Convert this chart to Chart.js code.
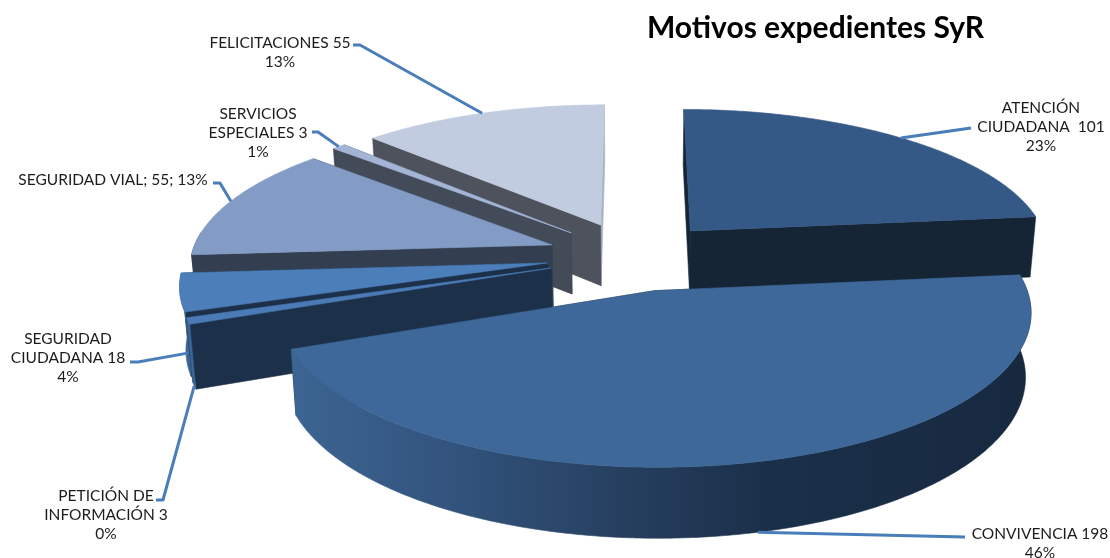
<!DOCTYPE html>
<html>
<head>
<meta charset="utf-8">
<title>Motivos expedientes SyR</title>
<script src="https://cdn.jsdelivr.net/npm/chart.js@4/dist/chart.umd.min.js"></script>
<style>
  html, body { margin: 0; padding: 0; background: #fff; }
  canvas { display: block; }
</style>
</head>
<body>
<canvas id="pie" width="1110" height="558"></canvas>
<script>
(function(){
  'use strict';

  // Data
  const categories = ['ATENCIÓN CIUDADANA', 'CONVIVENCIA', 'PETICIÓN DE INFORMACIÓN', 'SEGURIDAD CIUDADANA', 'SEGURIDAD VIAL', 'SERVICIOS ESPECIALES', 'FELICITACIONES'];
  const values = [101, 198, 3, 18, 55, 3, 55];
  const percents = ['23%', '46%', '0%', '4%', '13%', '1%', '13%'];

  // Colours per slice
  const topColors = ['#355986', '#3e6899', '#4a7bb6', '#4c7eba', '#839cc6', '#a3b4d6', '#c2cce0'];
  const startWallColors = ['#152536', '#17293f', '#1c3149', '#1c3149', '#333f51', '#434a58', '#4e525c'];
  const endWallColors = ['#152536', '#17293f', '#1c3149', '#1c3149', '#333f51', '#434a58', '#a8b2c6'];
  const rimColors = ['#152536', null, '#3a6596', '#3a6596', '#333f51', '#434a58', '#4e525c'];

  // Projection of the pie plane: vanishing factor, centre and axes in px
  const VIEW = { cx: 633.5, cy: 256, ax: 361, ay: 143.5, k: 0.131, depth: 62, floor: 0.986 };

  // Label text, anchor (centre x, first baseline) and leader line per slice
  const labels = [
    { lines: ['ATENCIÓN', 'CIUDADANA  ' + values[0], percents[0]], x: 1041, y: 113, frac: 0.5, drop: 0, path: [[971, 128]] },
    { lines: ['CONVIVENCIA ' + values[1], percents[1]], x: 1040, y: 539, frac: 0.5, drop: 1, path: [[965, 537]] },
    { lines: ['PETICIÓN DE', 'INFORMACIÓN ' + values[2], percents[2]], x: 106, y: 501, frac: 0.5, drop: 1, path: [[163, 500], [156, 500]] },
    { lines: ['SEGURIDAD', 'CIUDADANA ' + values[3], percents[3]], x: 68, y: 344, frac: 0.1, drop: 0.7, path: [[138, 362], [130, 362]] },
    { lines: ['SEGURIDAD VIAL; ' + values[4] + '; ' + percents[4]], x: 113, y: 185, frac: 0.5, drop: 0, path: [[220, 183], [213, 183]] },
    { lines: ['SERVICIOS', 'ESPECIALES ' + values[5], percents[5]], x: 258, y: 119, frac: 0.5, drop: 0, path: [[318, 132], [312, 132]] },
    { lines: ['FELICITACIONES ' + values[6], percents[6]], x: 280, y: 48, frac: 0.5, drop: 0, path: [[360, 45], [353, 45]] }
  ];

  // Maps a point of the pie plane (unit radius, w pointing away) to the screen
  function project(u, w, z){
    const s = 1 / (1 + VIEW.k * w);
    const f = z ? VIEW.floor : 1;
    return {
      x: VIEW.cx + VIEW.ax * u * s * f,
      y: VIEW.cy - VIEW.ay * w * s * f + (z ? VIEW.depth * s : 0)
    };
  }

  // Slice geometry comes from the arc elements Chart.js laid out
  function sliceOf(arc){
    const explode = arc.options.offset / arc.outerRadius;
    const start = arc.startAngle + Math.PI / 2;
    const end = arc.endAngle + Math.PI / 2;
    const mid = (start + end) / 2;
    return { start, end, mid, ou: explode * Math.sin(mid), ow: explode * Math.cos(mid) };
  }

  function rimPoint(sl, t, z){
    return project(sl.ou + Math.sin(t), sl.ow + Math.cos(t), z);
  }

  function rim(sl, z, frontOnly){
    const pts = [];
    const n = Math.max(4, Math.ceil((sl.end - sl.start) / 0.01));
    for (let i = 0; i <= n; i++) {
      const t = sl.start + (sl.end - sl.start) * i / n;
      if (!frontOnly || Math.cos(t) < 0.1) pts.push(rimPoint(sl, t, z));
    }
    return pts;
  }

  function fillPath(ctx, pts, color){
    ctx.beginPath();
    pts.forEach((p, i) => i ? ctx.lineTo(p.x, p.y) : ctx.moveTo(p.x, p.y));
    ctx.closePath();
    ctx.fillStyle = color;
    ctx.fill();
    ctx.strokeStyle = color;
    ctx.lineWidth = 0.6;
    ctx.stroke();
  }

  function convivenciaShade(ctx){
    const g = ctx.createLinearGradient(290, 0, 1030, 0);
    g.addColorStop(0, '#3c6593');
    g.addColorStop(0.2, '#33557f');
    g.addColorStop(0.45, '#263f5f');
    g.addColorStop(0.65, '#1a2f49');
    g.addColorStop(1, '#17293f');
    return g;
  }

  const pie3d = {
    id: 'pie3d',
    beforeDatasetsDraw(chart){
      const ctx = chart.ctx;
      const arcs = chart.getDatasetMeta(0).data;
      const order = arcs.map((arc, i) => ({ i, sl: sliceOf(arc) }))
        .sort((a, b) => Math.cos(b.sl.mid) - Math.cos(a.sl.mid));

      order.forEach(({ i, sl }) => {
        const apexTop = project(sl.ou, sl.ow, false);
        const apexLow = project(sl.ou, sl.ow, true);
        const top = rim(sl, false);
        const low = rim(sl, true);
        const last = top.length - 1;

        // radial walls, then the part of the curved wall facing the viewer, then the lid
        fillPath(ctx, [apexTop, top[last], low[last], apexLow], endWallColors[i]);
        fillPath(ctx, [apexTop, top[0], low[0], apexLow], startWallColors[i]);
        const frontTop = rim(sl, false, true);
        if (frontTop.length > 1) {
          const frontLow = rim(sl, true, true).reverse();
          fillPath(ctx, frontTop.concat(frontLow), rimColors[i] || convivenciaShade(ctx));
        }
        fillPath(ctx, [apexTop].concat(top), topColors[i]);
      });
      return false; // the flat arcs are replaced by the extruded ones
    },
    afterDraw(chart){
      const ctx = chart.ctx;
      const arcs = chart.getDatasetMeta(0).data;

      ctx.lineJoin = 'round';
      labels.forEach((lb, i) => {
        const sl = sliceOf(arcs[i]);
        const t = sl.start + (sl.end - sl.start) * lb.frac;
        const a = rimPoint(sl, t, false);
        const b = rimPoint(sl, t, true);
        ctx.beginPath();
        ctx.moveTo(a.x + (b.x - a.x) * lb.drop, a.y + (b.y - a.y) * lb.drop);
        lb.path.forEach(p => ctx.lineTo(p[0], p[1]));
        ctx.strokeStyle = '#4a7ebb';
        ctx.lineWidth = 3;
        ctx.stroke();

        ctx.font = '15.5px Lato';
        ctx.fillStyle = '#1c1c1c';
        ctx.textAlign = 'center';
        ctx.textBaseline = 'alphabetic';
        lb.lines.forEach((line, j) => ctx.fillText(line, lb.x, lb.y + j * 19));
      });

      ctx.font = 'bold 30px Lato';
      ctx.fillStyle = '#000';
      ctx.textAlign = 'center';
      ctx.fillText('Motivos expedientes SyR', 815.5, 38);
    }
  };

  new Chart(document.getElementById('pie'), {
    type: 'pie',
    data: {
      labels: categories,
      datasets: [{
        data: values,
        backgroundColor: topColors,
        borderWidth: 0,
        offset: 60
      }]
    },
    options: {
      responsive: false,
      animation: false,
      layout: { padding: 0 },
      plugins: {
        legend: { display: false },
        tooltip: { enabled: false }
      }
    },
    plugins: [pie3d]
  });
})();
</script>
</body>
</html>
